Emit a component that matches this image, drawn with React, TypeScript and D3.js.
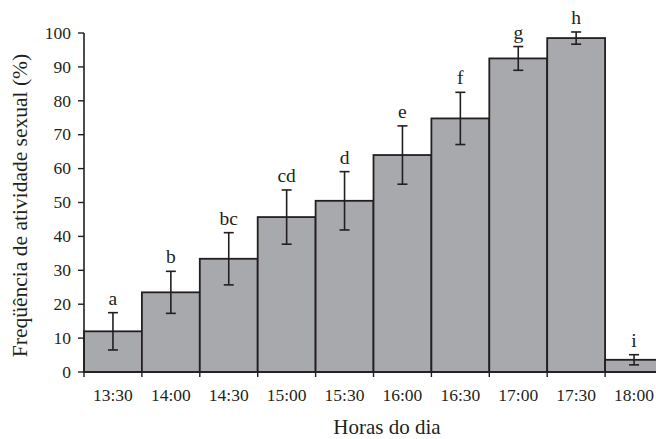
import * as d3 from 'd3';

const horas = ['13:30', '14:00', '14:30', '15:00', '15:30', '16:00', '16:30', '17:00', '17:30', '18:00'];
const frequencia = [12.0, 23.5, 33.4, 45.7, 50.5, 64.0, 74.8, 92.5, 98.5, 3.6];
const erro = [5.5, 6.2, 7.7, 8.0, 8.6, 8.6, 7.7, 3.5, 1.8, 1.5];
const letras = ['a', 'b', 'bc', 'cd', 'd', 'e', 'f', 'g', 'h', 'i'];
const yTicks = [0, 10, 20, 30, 40, 50, 60, 70, 80, 90, 100];

const width = 656;
const height = 439;
const margin = { left: 84, right: -7, top: 33, bottom: 67 };
const ink = '#231f20';
const font = '"Liberation Serif", "Times New Roman", serif';

export default function App() {
    const innerW = width - margin.left - margin.right;
    const innerH = height - margin.top - margin.bottom;

    const x = d3.scaleBand().domain(horas).range([0, innerW]).padding(0);
    const y = d3.scaleLinear().domain([0, 100]).range([innerH, 0]);
    const bw = x.bandwidth();
    const edges = horas.map((h) => x(h) as number).concat([innerW]);

    return (
        <svg width={width} height={height} style={{ position: 'absolute', left: 0, top: 0, background: '#fff' }}
            fontFamily={font} fill={ink}>
            <g transform={`translate(${margin.left}, ${margin.top})`}>
                {horas.map((h, i) => (
                    <rect key={h} x={x(h)} y={y(frequencia[i])} width={bw} height={innerH - y(frequencia[i])}
                        fill="#a8a9ad" stroke={ink} strokeWidth={1.8} />
                ))}

                {/* barras de erro */}
                {horas.map((h, i) => {
                    const cx = (x(h) as number) + bw / 2;
                    const top = y(frequencia[i] + erro[i]);
                    const bot = y(frequencia[i] - erro[i]);
                    return (
                        <g key={'e' + h} stroke={ink} strokeWidth={1.6}>
                            <line x1={cx} x2={cx} y1={top} y2={bot} />
                            <line x1={cx - 5} x2={cx + 5} y1={top} y2={top} />
                            <line x1={cx - 5} x2={cx + 5} y1={bot} y2={bot} />
                        </g>
                    );
                })}

                {horas.map((h, i) => (
                    <text key={'l' + h} x={(x(h) as number) + bw / 2} y={y(frequencia[i] + erro[i]) - 8}
                        textAnchor="middle" fontSize={19.5}>
                        {letras[i]}
                    </text>
                ))}

                {/* eixo y */}
                <line x1={0} x2={0} y1={0} y2={innerH} stroke={ink} strokeWidth={1.6} />
                {yTicks.map((t) => (
                    <g key={'y' + t} transform={`translate(0, ${y(t)})`}>
                        <line x1={-6} x2={0} stroke={ink} strokeWidth={1.4} />
                        <text x={-13} dy="0.33em" textAnchor="end" fontSize={17.5}>{t}</text>
                    </g>
                ))}

                {/* eixo x */}
                <line x1={0} x2={innerW} y1={innerH} y2={innerH} stroke={ink} strokeWidth={1.6} />
                {edges.map((e, i) => (
                    <line key={'xt' + i} x1={e} x2={e} y1={innerH} y2={innerH + 5} stroke={ink} strokeWidth={1.4} />
                ))}
                {horas.map((h) => (
                    <text key={'x' + h} x={(x(h) as number) + bw / 2} y={innerH + 29} textAnchor="middle" fontSize={17.5}>
                        {h}
                    </text>
                ))}

                <text x={303} y={innerH + 62} textAnchor="middle" fontSize={21}>Horas do dia</text>
                <text transform={`translate(${27 - margin.left}, ${205.5 - margin.top}) rotate(-90)`}
                    textAnchor="middle" fontSize={21.5}>
                    Freqüência de atividade sexual (%)
                </text>
            </g>
        </svg>
    );
}
